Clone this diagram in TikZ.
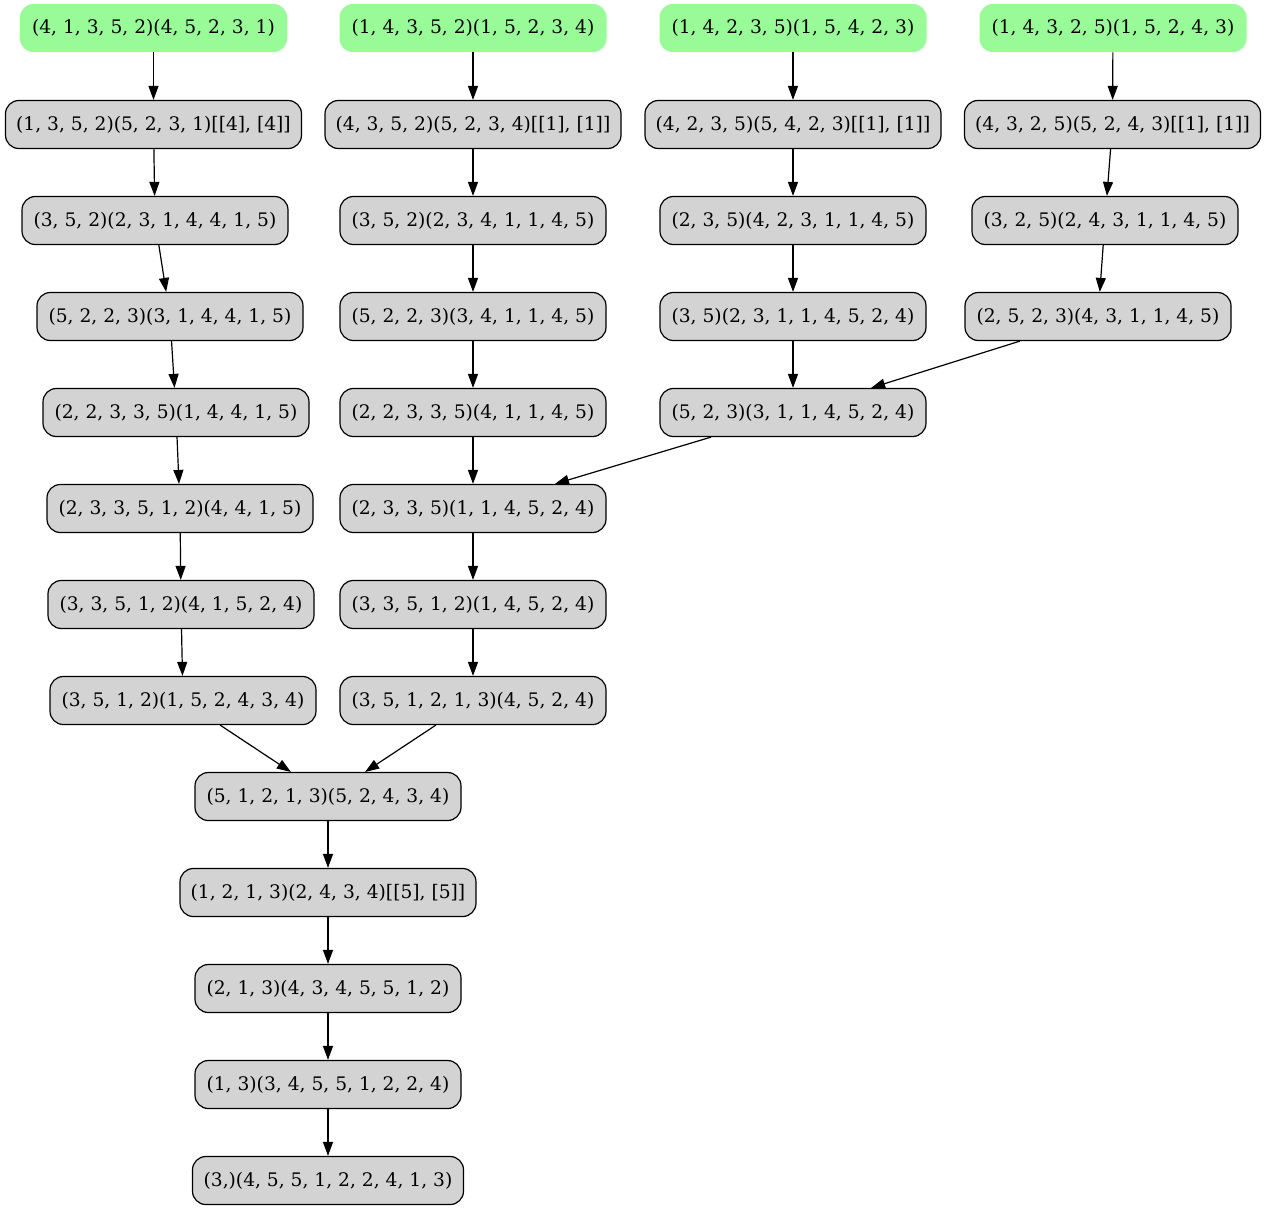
\documentclass[tikz,border=0pt]{standalone}
\usepackage{fontspec}
\setmainfont{DejaVu Serif}
\usetikzlibrary{arrows.meta}
\definecolor{nodegray}{HTML}{D3D3D3}
\definecolor{palegrn}{HTML}{98FB98}
\tikzset{
  base/.style={rounded corners=10pt, minimum height=36pt, inner xsep=0pt, inner ysep=0pt,
    font=\fontsize{14pt}{16pt}\selectfont, text=black},
  nd/.style={base, draw=black, line width=0.9pt, fill=nodegray, minimum width=199.5pt},
  ndw/.style={nd, minimum width=222pt},
  st/.style={base, fill=palegrn, minimum width=200.25pt},
  arr/.style={draw=black, line width=0.9pt, -{Triangle[length=10.5pt,width=7.5pt]}}
}
\begin{document}
\begin{tikzpicture}[x=0.75pt,y=-0.75pt]
\useasboundingbox (0,0) rectangle (1267,1211);
% row A (start nodes)
\node[st] (A1) at (153.5,28) {(4, 1, 3, 5, 2)(4, 5, 2, 3, 1)};
\node[st] (A2) at (473,28) {(1, 4, 3, 5, 2)(1, 5, 2, 3, 4)};
\node[st] (A3) at (793,28) {(1, 4, 2, 3, 5)(1, 5, 4, 2, 3)};
\node[st] (A4) at (1113,28) {(1, 4, 3, 2, 5)(1, 5, 2, 4, 3)};
% row B
\node[ndw] (B1) at (153.5,124.5) {(1, 3, 5, 2)(5, 2, 3, 1)[[4], [4]]};
\node[ndw] (B2) at (473,124.5) {(4, 3, 5, 2)(5, 2, 3, 4)[[1], [1]]};
\node[ndw] (B3) at (793,124.5) {(4, 2, 3, 5)(5, 4, 2, 3)[[1], [1]]};
\node[ndw] (B4) at (1112.5,124.5) {(4, 3, 2, 5)(5, 2, 4, 3)[[1], [1]]};
% row C
\node[nd] (C1) at (155,220.5) {(3, 5, 2)(2, 3, 1, 4, 4, 1, 5)};
\node[nd] (C2) at (473,220.5) {(3, 5, 2)(2, 3, 4, 1, 1, 4, 5)};
\node[nd] (C3) at (793,220.5) {(2, 3, 5)(4, 2, 3, 1, 1, 4, 5)};
\node[nd] (C4) at (1105,220.5) {(3, 2, 5)(2, 4, 3, 1, 1, 4, 5)};
% row D
\node[nd] (D1) at (170,316.5) {(5, 2, 2, 3)(3, 1, 4, 4, 1, 5)};
\node[nd] (D2) at (473,316.5) {(5, 2, 2, 3)(3, 4, 1, 1, 4, 5)};
\node[nd] (D3) at (793,316.5) {(3, 5)(2, 3, 1, 1, 4, 5, 2, 4)};
\node[nd] (D4) at (1098,316.5) {(2, 5, 2, 3)(4, 3, 1, 1, 4, 5)};
% row E
\node[nd] (E1) at (176,412.5) {(2, 2, 3, 3, 5)(1, 4, 4, 1, 5)};
\node[nd] (E2) at (473,412.5) {(2, 2, 3, 3, 5)(4, 1, 1, 4, 5)};
\node[nd] (E3) at (793,412.5) {(5, 2, 3)(3, 1, 1, 4, 5, 2, 4)};
% row F
\node[nd] (F1) at (180,508.5) {(2, 3, 3, 5, 1, 2)(4, 4, 1, 5)};
\node[nd] (F2) at (473,508.5) {(2, 3, 3, 5)(1, 1, 4, 5, 2, 4)};
% row G
\node[nd] (G1) at (181,604.5) {(3, 3, 5, 1, 2)(4, 1, 5, 2, 4)};
\node[nd] (G2) at (473,604.5) {(3, 3, 5, 1, 2)(1, 4, 5, 2, 4)};
% row H
\node[nd] (H1) at (183,700.5) {(3, 5, 1, 2)(1, 5, 2, 4, 3, 4)};
\node[nd] (H2) at (473,700.5) {(3, 5, 1, 2, 1, 3)(4, 5, 2, 4)};
% bottom chain
\node[nd] (I) at (328,796.5) {(5, 1, 2, 1, 3)(5, 2, 4, 3, 4)};
\node[ndw] (J) at (328,892.5) {(1, 2, 1, 3)(2, 4, 3, 4)[[5], [5]]};
\node[nd] (K) at (328,988.5) {(2, 1, 3)(4, 3, 4, 5, 5, 1, 2)};
\node[nd] (L) at (328,1084.5) {(1, 3)(3, 4, 5, 5, 1, 2, 2, 4)};
\node[nd, minimum width=203.25pt] (M) at (328,1180.5) {(3,)(4, 5, 5, 1, 2, 2, 4, 1, 3)};
% edges
\draw[arr] (A1) -- (B1);
\draw[arr] (B1) -- (C1);
\draw[arr] (C1) -- (D1);
\draw[arr] (D1) -- (E1);
\draw[arr] (E1) -- (F1);
\draw[arr] (F1) -- (G1);
\draw[arr] (G1) -- (H1);
\draw[arr] (H1) -- (I);
\draw[arr] (A2) -- (B2);
\draw[arr] (B2) -- (C2);
\draw[arr] (C2) -- (D2);
\draw[arr] (D2) -- (E2);
\draw[arr] (E2) -- (F2);
\draw[arr] (F2) -- (G2);
\draw[arr] (G2) -- (H2);
\draw[arr] (H2) -- (I);
\draw[arr] (A3) -- (B3);
\draw[arr] (B3) -- (C3);
\draw[arr] (C3) -- (D3);
\draw[arr] (D3) -- (E3);
\draw[arr] (E3) -- (F2);
\draw[arr] (A4) -- (B4);
\draw[arr] (B4) -- (C4);
\draw[arr] (C4) -- (D4);
\draw[arr] (D4) -- (E3);
\draw[arr] (I) -- (J);
\draw[arr] (J) -- (K);
\draw[arr] (K) -- (L);
\draw[arr] (L) -- (M);
\end{tikzpicture}
\end{document}
